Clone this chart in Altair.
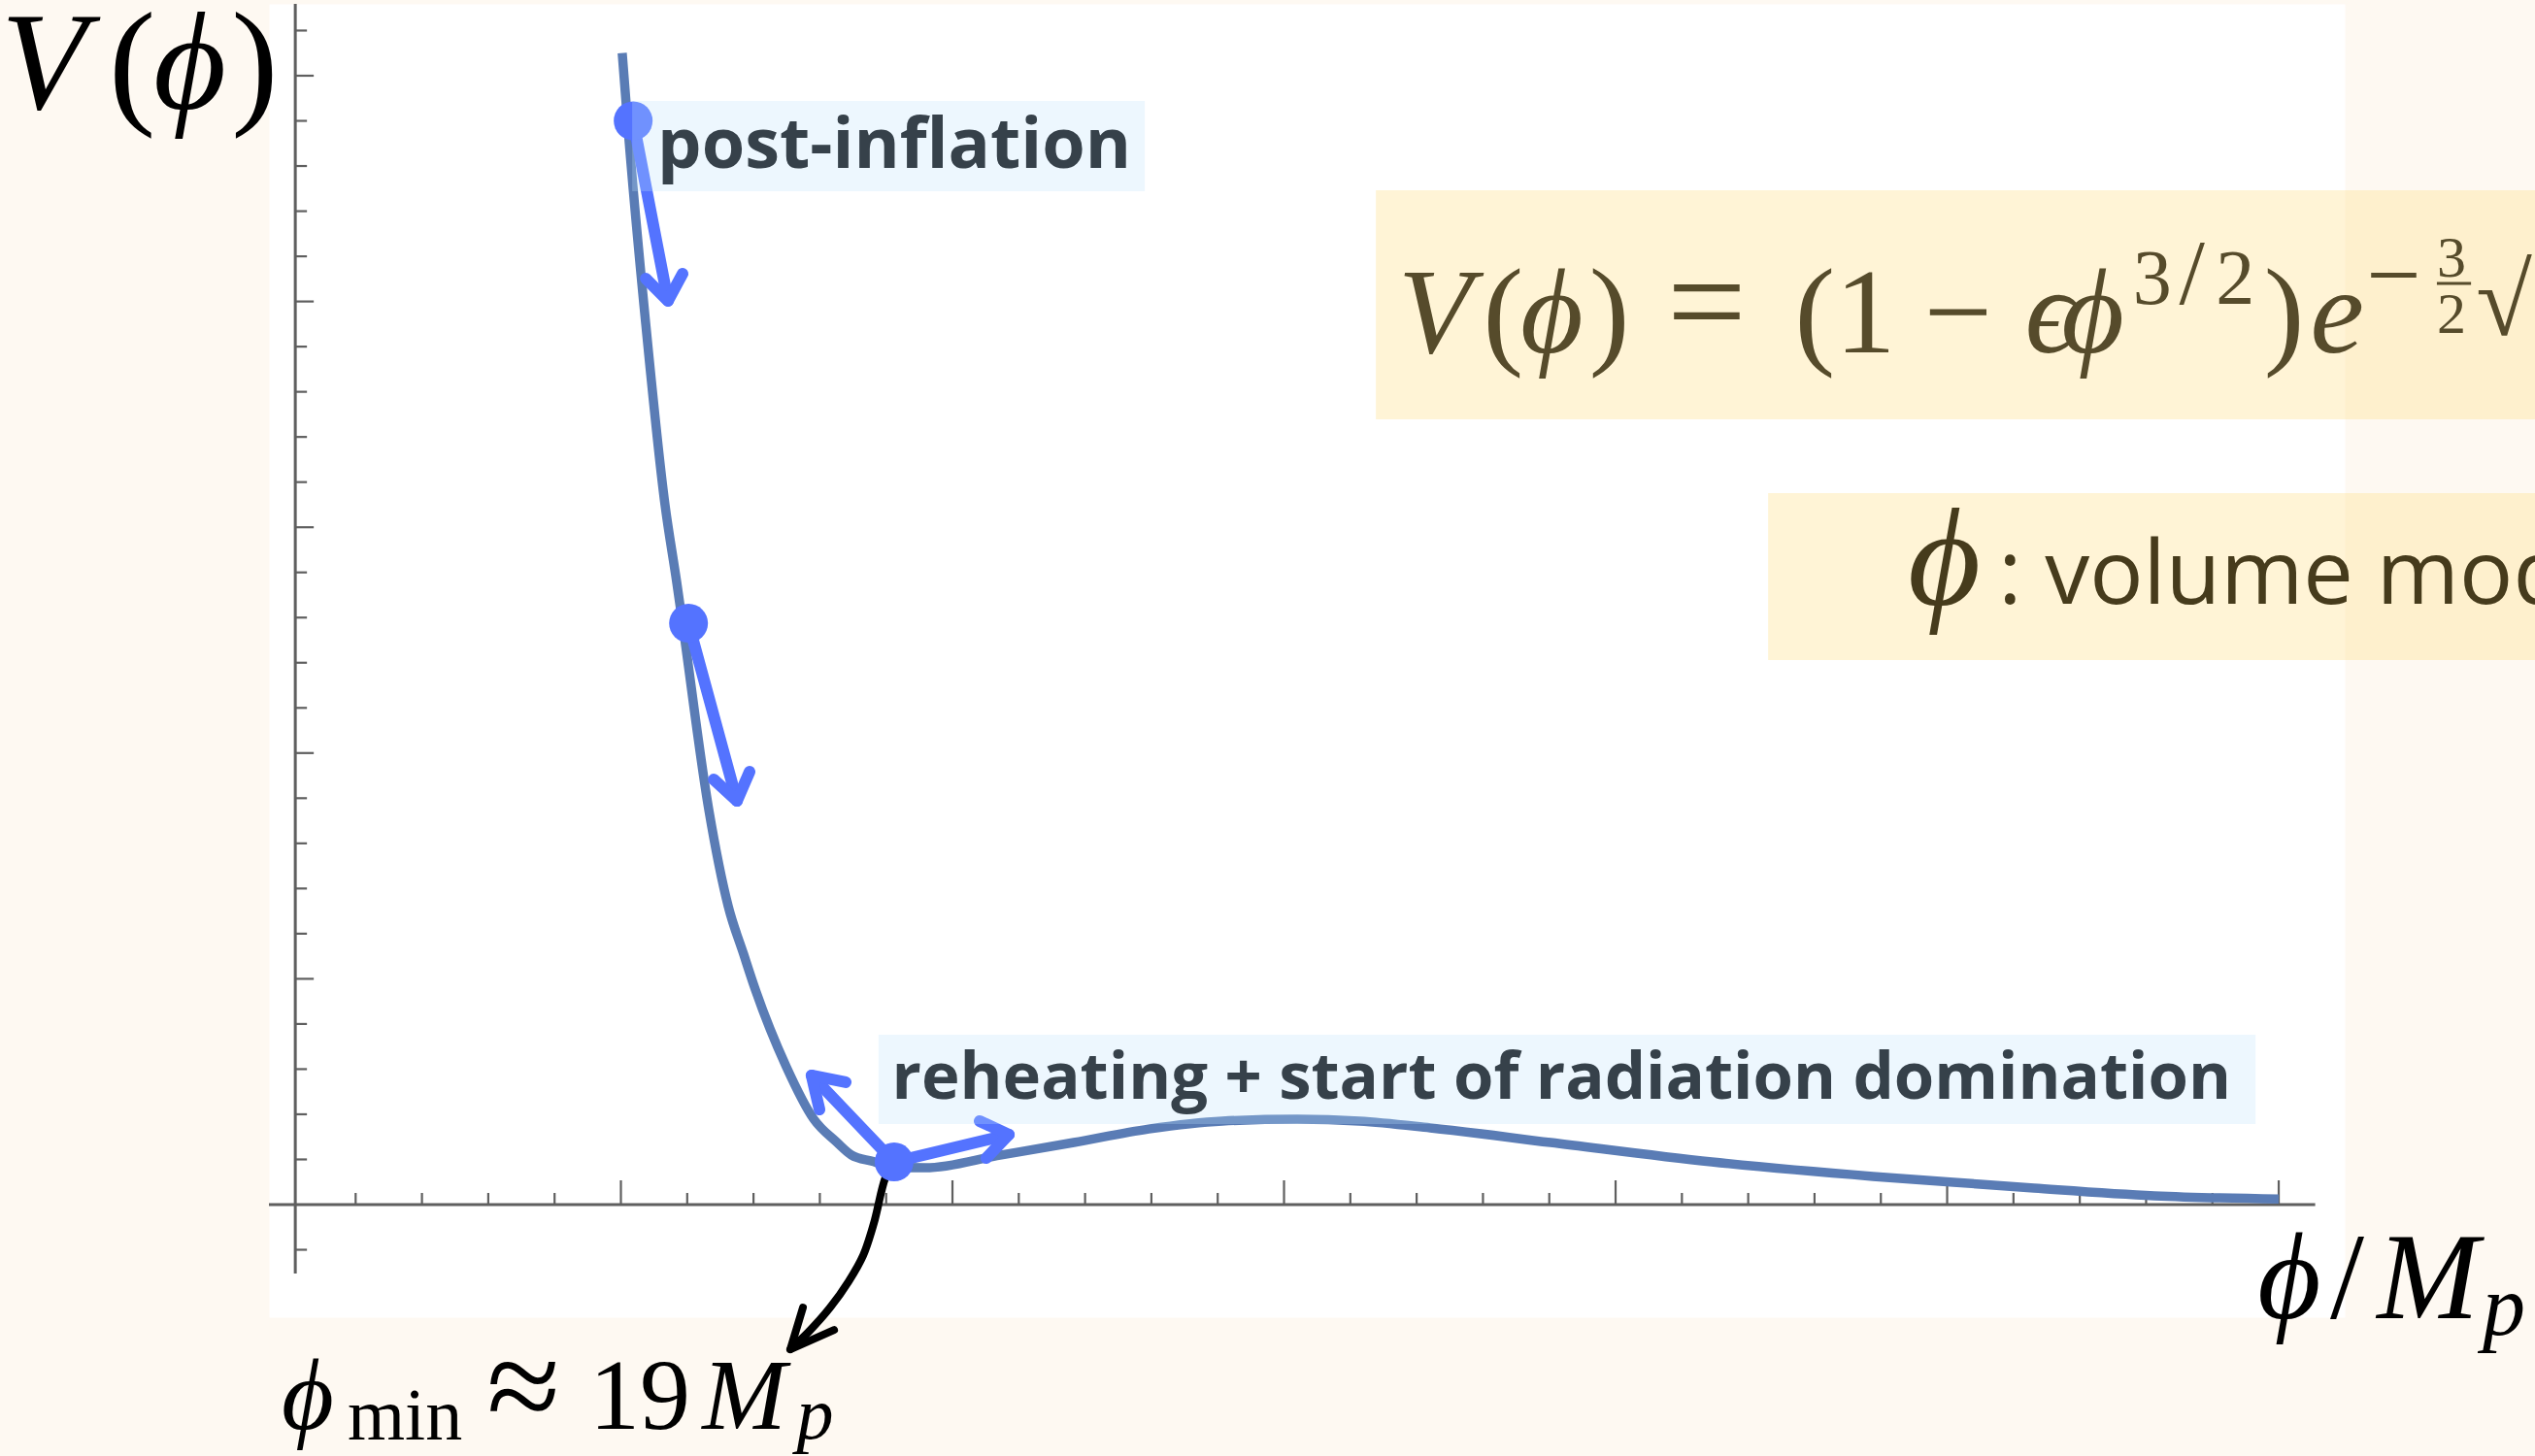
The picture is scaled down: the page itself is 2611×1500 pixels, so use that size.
import altair as alt
import pandas as pd

# ---------------------------------------------------------------------------
# Potential V(phi): phi in units of M_p, V in units of one major y tick
# ---------------------------------------------------------------------------
PHI = [10.04, 10.22, 10.75, 11.33, 11.68, 11.86, 12.65, 13.24, 13.70, 14.06,
       14.99, 15.81, 16.52, 16.95, 17.63, 18.07, 19.18, 21.43, 23.66, 25.92,
       28.14, 30.40, 32.27, 34.41, 38.04, 42.90, 47.76, 50.19, 52.62, 56.25,
       60.00]
V = [5.10, 4.76, 3.90, 3.10, 2.76, 2.575, 1.75, 1.32, 1.11, 0.95,
     0.61, 0.38, 0.275, 0.22, 0.19, 0.168, 0.163, 0.219, 0.275, 0.335,
     0.370, 0.378, 0.370, 0.340, 0.275, 0.189, 0.125, 0.099, 0.073, 0.039,
     0.025]

# field positions marked on the trajectory
DOT_PHI = [10.37, 12.04, 18.24]
DOT_V = [4.80, 2.575, 0.189]

# blue motion arrows (shaft starts at a dot, chevron head at the tip)
ARROW_FROM = [0, 1, 2, 2]
ARROW_TIP_PHI = [11.42, 13.50, 15.75, 21.70]
ARROW_TIP_V = [4.003, 1.788, 0.572, 0.310]
HEAD_A_PHI = [10.75, 12.80, 16.78, 20.82]
HEAD_A_V = [4.101, 1.883, 0.542, 0.370]
HEAD_B_PHI = [11.86, 13.88, 15.99, 21.02]
HEAD_B_V = [4.123, 1.917, 0.421, 0.206]

# black pointer from the minimum down to the phi_min label
POINTER_PHI = [18.24, 17.98, 17.63, 17.31, 16.87, 16.31, 15.64, 15.11]
POINTER_V = [0.189, 0.120, -0.082, -0.224, -0.340, -0.456, -0.567, -0.641]
POINTER_HEAD_PHI = [15.49, 15.11, 16.43]
POINTER_HEAD_V = [-0.456, -0.641, -0.555]

# axes (Mathematica style: ticks on the inside, axes crossing near the origin)
AXIS_ORIGIN_PHI = 0.18
X_AXIS_SPAN = [-0.615, 61.1]
Y_AXIS_SPAN = [-0.305, 5.318]
X_MAJOR = [10, 20, 30, 40, 50, 60]
X_MINOR = [2, 4, 6, 8, 12, 14, 16, 18, 22, 24, 26, 28, 32, 34, 36, 38,
           42, 44, 46, 48, 52, 54, 56, 58]
Y_MAJOR = [1, 2, 3, 4, 5]
Y_MINOR = [-0.2, 0.2, 0.4, 0.6, 0.8, 1.2, 1.4, 1.6, 1.8, 2.2, 2.4, 2.6, 2.8,
           3.2, 3.4, 3.6, 3.8, 4.2, 4.4, 4.6, 4.8, 5.2]

# highlight boxes: [phi_left, phi_right, V_bottom, V_top]
BLUE_BOXES = [[10.34, 25.80, 4.488, 4.888],
              [17.77, 59.30, 0.357, 0.752]]
YELLOW_BOXES = [[32.77, 67.80, 3.478, 4.493],
                [44.60, 67.80, 2.412, 3.151]]

# bold callouts
CALLOUT_TEXT = ["post-inflation", "reheating + start of radiation domination"]
CALLOUT_PHI = [11.10, 18.17]
CALLOUT_V = [4.592, 0.470]
CALLOUT_SIZE = [72, 67]

# math labels, one glyph group per row
MATH = [
    # text, phi, V, size, style, colour group
    ("V", -8.70, 4.854, 145, "i", "k"),
    ("(", -5.45, 4.854, 145, "n", "k"),
    ("\u03d5", -4.10, 4.854, 145, "i", "k"),
    (")", -1.75, 4.854, 145, "n", "k"),

    ("V", 33.44, 3.775, 125, "i", "o"),
    ("(", 36.00, 3.775, 125, "n", "o"),
    ("\u03d5", 37.13, 3.775, 125, "i", "o"),
    (")", 39.20, 3.775, 125, "n", "o"),
    ("=", 41.55, 3.790, 145, "n", "o"),
    ("(", 45.40, 3.775, 125, "n", "o"),
    ("1", 46.62, 3.775, 125, "n", "o"),
    ("\u2212", 49.30, 3.775, 125, "n", "o"),
    ("\u03f5", 52.35, 3.775, 125, "i", "o"),
    ("\u03d5", 53.45, 3.775, 125, "i", "o"),
    ("3", 55.60, 3.990, 80, "n", "o"),
    ("/", 57.00, 3.990, 95, "n", "o"),
    ("2", 58.10, 3.990, 80, "n", "o"),
    (")", 59.55, 3.775, 125, "n", "o"),
    ("e", 60.95, 3.775, 125, "i", "o"),
    ("\u2212", 62.64, 3.972, 100, "n", "o"),
    ("3", 64.77, 4.110, 60, "n", "o"),
    ("2", 64.77, 3.861, 60, "n", "o"),
    ("\u221a", 65.95, 3.852, 105, "n", "o"),

    ("\u03d5", 48.81, 2.657, 145, "i", "v"),

    ("\u03d5", 59.36, -0.503, 126, "i", "k"),
    ("/", 61.55, -0.503, 126, "n", "k"),
    ("M", 62.96, -0.503, 126, "i", "k"),
    ("p", 66.15, -0.576, 88, "i", "k"),

    ("\u03d5", -0.234, -0.993, 104, "i", "k"),
    ("min", 1.757, -1.040, 76, "n", "k"),
    ("\u2248", 5.95, -1.000, 138, "n", "k"),
    ("19", 9.05, -0.993, 104, "n", "k"),
    ("M", 12.45, -0.993, 104, "i", "k"),
    ("p", 15.30, -1.036, 76, "i", "k"),
]
FRACTION_BAR = [64.77, 65.80, 4.080]
MODULUS_TEXT = ": volume modulus"
MODULUS_PHI = 51.54
MODULUS_V = 2.661

# ---------------------------------------------------------------------------
CREAM = "#fef9f2"
CURVE = "#5a7cb5"
BLUE = "#5473ff"
AXIS = "#5f5f5f"
INK = "#36414a"
TONE = {"k": "#000000", "o": "#564b2b", "v": "#463b1c"}
SERIF = "Liberation Serif, DejaVu Serif, serif"

W, H = 2138, 1353
xs = alt.Scale(domain=[-0.615, 61.99], nice=False, zero=False)
ys = alt.Scale(domain=[-0.4987, 5.3181], nice=False, zero=False)


def X(f):
    return alt.X(f, type="quantitative", scale=xs, axis=None)


def Y(f):
    return alt.Y(f, type="quantitative", scale=ys, axis=None)


# ---- boxes
yellow_df = pd.DataFrame(YELLOW_BOXES, columns=["x1", "x2", "y1", "y2"])
blue_df = pd.DataFrame(BLUE_BOXES, columns=["x1", "x2", "y1", "y2"])
yellow = alt.Chart(yellow_df).mark_rect(color="#ffdc78", opacity=0.3).encode(
    x=X("x1"), x2="x2", y=Y("y1"), y2="y2")
blue_boxes = alt.Chart(blue_df).mark_rect(color="#bde2fb", opacity=0.27).encode(
    x=X("x1"), x2="x2", y=Y("y1"), y2="y2")

# ---- axes
x_axis = alt.Chart(pd.DataFrame({"a": [X_AXIS_SPAN[0]], "b": [X_AXIS_SPAN[1]], "y": [0.0]})).mark_rule(
    color=AXIS, strokeWidth=3).encode(x=X("a"), x2="b", y=Y("y"))
y_axis = alt.Chart(pd.DataFrame({"x": [AXIS_ORIGIN_PHI], "a": [Y_AXIS_SPAN[0]], "b": [Y_AXIS_SPAN[1]]})).mark_rule(
    color=AXIS, strokeWidth=3).encode(x=X("x"), y=Y("a"), y2="b")

x_major = alt.Chart(pd.DataFrame({"p": X_MAJOR, "y": 0.0})).mark_tick(
    orient="vertical", size=25, thickness=2.2, yOffset=-12.5, color=AXIS, opacity=1).encode(x=X("p"), y=Y("y"))
x_minor = alt.Chart(pd.DataFrame({"p": X_MINOR, "y": 0.0})).mark_tick(
    orient="vertical", size=12, thickness=2.2, yOffset=-6, color=AXIS, opacity=1).encode(x=X("p"), y=Y("y"))
y_major = alt.Chart(pd.DataFrame({"v": Y_MAJOR, "x": AXIS_ORIGIN_PHI})).mark_tick(
    orient="horizontal", size=19, thickness=2.2, xOffset=9.5, color=AXIS, opacity=1).encode(x=X("x"), y=Y("v"))
y_minor = alt.Chart(pd.DataFrame({"v": Y_MINOR, "x": AXIS_ORIGIN_PHI})).mark_tick(
    orient="horizontal", size=12, thickness=2.2, xOffset=6, color=AXIS, opacity=1).encode(x=X("x"), y=Y("v"))

# ---- potential curve
curve = alt.Chart(pd.DataFrame({"phi": PHI, "V": V})).mark_line(
    color=CURVE, strokeWidth=9.5, interpolate="monotone").encode(x=X("phi"), y=Y("V"))

# ---- black pointer to the minimum label
ptr_df = pd.DataFrame({"phi": POINTER_PHI, "V": POINTER_V, "k": range(len(POINTER_PHI))})
pointer = alt.Chart(ptr_df).mark_line(
    color="#000000", strokeWidth=8, strokeCap="round", interpolate="catmull-rom").encode(
    x=X("phi"), y=Y("V"), order="k:Q")
ptr_head_df = pd.DataFrame({"phi": POINTER_HEAD_PHI, "V": POINTER_HEAD_V, "k": range(3)})
pointer_head = alt.Chart(ptr_head_df).mark_line(
    color="#000000", strokeWidth=8, strokeCap="round", strokeJoin="round").encode(
    x=X("phi"), y=Y("V"), order="k:Q")

# ---- blue arrows
rows = []
for i, d in enumerate(ARROW_FROM):
    rows.append({"seg": f"s{i}", "k": 0, "phi": DOT_PHI[d], "V": DOT_V[d]})
    rows.append({"seg": f"s{i}", "k": 1, "phi": ARROW_TIP_PHI[i], "V": ARROW_TIP_V[i]})
    rows.append({"seg": f"h{i}", "k": 0, "phi": HEAD_A_PHI[i], "V": HEAD_A_V[i]})
    rows.append({"seg": f"h{i}", "k": 1, "phi": ARROW_TIP_PHI[i], "V": ARROW_TIP_V[i]})
    rows.append({"seg": f"h{i}", "k": 2, "phi": HEAD_B_PHI[i], "V": HEAD_B_V[i]})
arrows = alt.Chart(pd.DataFrame(rows)).mark_line(
    color=BLUE, strokeWidth=12, strokeCap="round", strokeJoin="round").encode(
    x=X("phi"), y=Y("V"), detail="seg:N", order="k:Q")

dots = alt.Chart(pd.DataFrame({"phi": DOT_PHI, "V": DOT_V})).mark_circle(
    color=BLUE, size=1600, opacity=1).encode(x=X("phi"), y=Y("V"))

# ---- callout labels
callouts = alt.Chart(pd.DataFrame({"t": CALLOUT_TEXT, "phi": CALLOUT_PHI, "V": CALLOUT_V,
                                   "s": CALLOUT_SIZE})).mark_text(
    font="Open Sans", fontWeight="bold", color=INK, align="left", baseline="alphabetic").encode(
    x=X("phi"), y=Y("V"), text="t:N", size=alt.Size("s:Q", scale=None, legend=None))

modulus = alt.Chart(pd.DataFrame({"t": [MODULUS_TEXT], "phi": [MODULUS_PHI], "V": [MODULUS_V]})).mark_text(
    font="Open Sans", fontSize=92, color=TONE["v"], align="left", baseline="alphabetic").encode(
    x=X("phi"), y=Y("V"), text="t:N")

# ---- math glyphs
math_df = pd.DataFrame(MATH, columns=["t", "phi", "V", "size", "style", "tone"])
math_df["col"] = math_df["tone"].map(TONE)


def glyphs(style, font_style):
    return alt.Chart(math_df[math_df["style"] == style]).mark_text(
        font=SERIF, fontStyle=font_style, align="left", baseline="alphabetic").encode(
        x=X("phi"), y=Y("V"), text="t:N",
        size=alt.Size("size:Q", scale=None, legend=None),
        color=alt.Color("col:N", scale=None, legend=None))


math_it = glyphs("i", "italic")
math_up = glyphs("n", "normal")

frac = alt.Chart(pd.DataFrame({"a": [FRACTION_BAR[0]], "b": [FRACTION_BAR[1]], "y": [FRACTION_BAR[2]]})).mark_rule(
    color=TONE["o"], strokeWidth=3).encode(x=X("a"), x2="b", y=Y("y"))

chart = alt.layer(
    yellow, x_axis, y_axis, x_major, x_minor, y_major, y_minor,
    curve, pointer, pointer_head, arrows, dots, blue_boxes,
    callouts, modulus, math_it, math_up, frac,
).properties(
    width=W, height=H, background=CREAM,
    padding={"left": 277, "top": 4, "right": 196, "bottom": 143},
    autosize=alt.AutoSizeParams(type="none"),
).configure_view(fill="white", stroke="transparent")

chart.save("out.html", embed_options={"renderer": "svg", "actions": False})
